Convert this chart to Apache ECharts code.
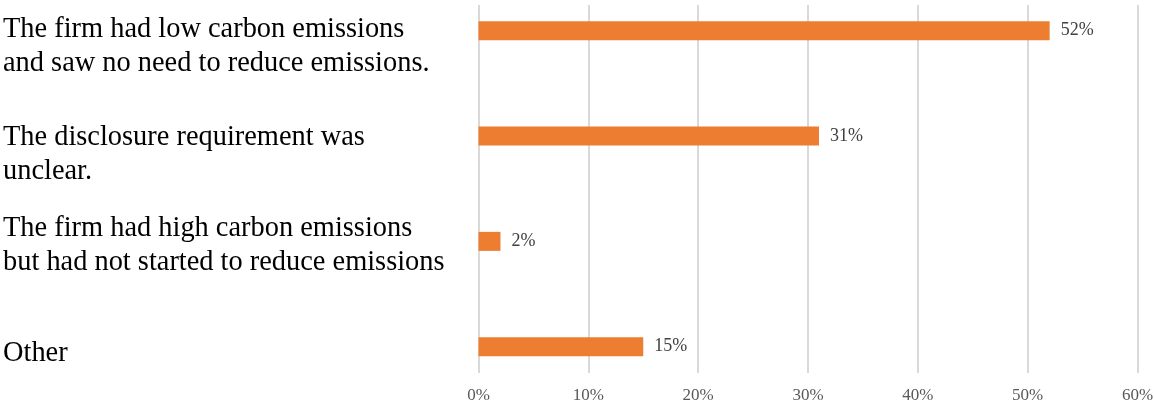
<!DOCTYPE html>
<html>
<head>
<meta charset="utf-8">
<script src="https://cdn.jsdelivr.net/npm/echarts@6/dist/echarts.min.js"></script>
<style>
  html, body { margin: 0; padding: 0; background: #ffffff; }
  #chart { width: 1154px; height: 402px; }
</style>
</head>
<body>
<div id="chart"></div>
<script>
// ---- data ----
var categories = [
  "The firm had low carbon emissions\nand saw no need to reduce emissions.",
  "The disclosure requirement was\nunclear.",
  "The firm had high carbon emissions\nbut had not started to reduce emissions",
  "Other"
];
var values = [52, 31, 2, 15];
var xTickMin = 0;
var xTickMax = 60;
var xTickStep = 10;

// ---- styling ----
var SERIF = '"Times New Roman", "Liberation Serif", serif';
var labelSpacers = [32, 38, 9, 14];

var rich = {
  t: { fontFamily: SERIF, fontSize: 28.4, lineHeight: 34, color: '#000000' }
};
labelSpacers.forEach(function (h, i) {
  rich['sp' + i] = { height: h, lineHeight: h, fontSize: 1 };
});

var chart = echarts.init(document.getElementById('chart'), null, { renderer: 'canvas' });

var option = {
  animation: false,
  backgroundColor: '#ffffff',
  grid: [
    { left: 478.5, right: 16.5, top: 30.7, height: 316, containLabel: false, outerBoundsMode: 'none' },
    { left: 478.5, right: 16.5, top: 5, height: 368, containLabel: false, outerBoundsMode: 'none' }
  ],
  xAxis: [
    {
      gridIndex: 0, type: 'value', min: xTickMin, max: xTickMax, interval: xTickStep,
      show: false
    },
    {
      gridIndex: 1, type: 'value', min: xTickMin, max: xTickMax, interval: xTickStep,
      axisLine: { show: false },
      axisTick: { show: false },
      splitLine: { show: true, lineStyle: { color: '#d9d9d9', width: 2 } },
      axisLabel: {
        formatter: '{value}%',
        fontFamily: SERIF, fontSize: 17, color: '#595959', margin: 14
      }
    }
  ],
  yAxis: [
    {
      gridIndex: 0, type: 'category', data: categories, inverse: true,
      boundaryGap: false,
      axisLine: { show: false },
      axisTick: { show: false },
      splitLine: { show: false },
      axisLabel: {
        align: 'left',
        margin: 475.5,
        lineHeight: 1,
        fontSize: 1,
        formatter: function (value, index) {
          var lines = value.split('\n').map(function (l) { return '{t|' + l + '}'; });
          return '{sp' + index + '|}\n' + lines.join('\n');
        },
        rich: rich
      }
    },
    {
      gridIndex: 1, type: 'value', show: false
    }
  ],
  series: [
    {
      type: 'bar',
      xAxisIndex: 0,
      yAxisIndex: 0,
      data: values,
      barWidth: 19,
      clip: false,
      itemStyle: { color: '#ED7D31' },
      label: {
        show: true,
        position: 'right',
        distance: 11,
        formatter: '{c}%',
        fontFamily: SERIF,
        fontSize: 18,
        color: '#404040'
      }
    }
  ]
};
chart.setOption(option);
</script>
</body>
</html>
